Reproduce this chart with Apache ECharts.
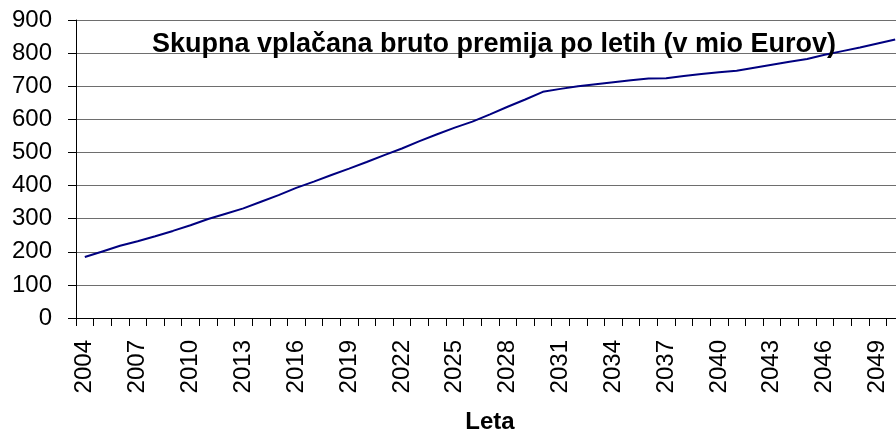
<!DOCTYPE html>
<html>
<head>
<meta charset="utf-8">
<script src="https://cdn.jsdelivr.net/npm/echarts@6/dist/echarts.min.js"></script>
<style>
  html, body { margin: 0; padding: 0; background: #fff; overflow: hidden; }
  /* the original plot runs a little past the right edge of the picture */
  #chart { width: 904px; height: 439px; }
</style>
</head>
<body>
<div id="chart"></div>
<script>
// leta (kategorije na osi x)
const years = [
  '2004', '2005', '2006', '2007', '2008', '2009', '2010', '2011', '2012', '2013',
  '2014', '2015', '2016', '2017', '2018', '2019', '2020', '2021', '2022', '2023',
  '2024', '2025', '2026', '2027', '2028', '2029', '2030', '2031', '2032', '2033',
  '2034', '2035', '2036', '2037', '2038', '2039', '2040', '2041', '2042', '2043',
  '2044', '2045', '2046', '2047', '2048', '2049', '2050'
];
// skupna vplacana bruto premija (mio EUR), odcitano s slike
const premium = [
  184, 201, 218, 232, 247, 263, 280, 299, 315, 331,
  351, 371, 393, 412, 432, 451, 471, 492, 512, 534,
  555, 575, 593, 615, 638, 660, 683, 692, 700, 706,
  712, 718, 723, 724, 731, 737, 742, 747, 756, 765,
  774, 782, 795, 806, 817, 829, 841
];
const yTicks = [0, 100, 200, 300, 400, 500, 600, 700, 800, 900];

const font = '"Liberation Sans", Arial, sans-serif';
const chart = echarts.init(document.getElementById('chart'));

const option = {
  animation: false,
  title: {
    text: 'Skupna vplačana bruto premija po letih (v mio Eurov)',
    left: 489,
    top: 26,
    textAlign: 'center',
    textStyle: { fontFamily: font, fontSize: 27, fontWeight: 'bold', color: '#000' }
  },
  grid: { left: 76, right: 0, top: 20, bottom: 118 },
  xAxis: {
    type: 'category',
    data: years,
    boundaryGap: true,
    name: 'Leta',
    nameLocation: 'middle',
    nameGap: 92,
    nameTextStyle: { fontFamily: font, fontSize: 24, fontWeight: 'bold', color: '#000' },
    axisLine: { lineStyle: { color: '#000', width: 1 } },
    axisTick: { show: true, interval: 0, length: 8, lineStyle: { color: '#000' } },
    axisLabel: {
      interval: 2,
      rotate: 90,
      margin: 22,
      fontFamily: font,
      fontSize: 24,
      color: '#000'
    },
    splitLine: { show: false }
  },
  yAxis: {
    type: 'value',
    min: yTicks[0],
    max: yTicks[yTicks.length - 1],
    interval: 100,
    axisLine: { show: true, lineStyle: { color: '#000', width: 1 } },
    axisTick: { show: true, length: 8, lineStyle: { color: '#000' } },
    axisLabel: { margin: 24, fontFamily: font, fontSize: 24, color: '#000' },
    splitLine: { show: true, lineStyle: { color: '#6e6e6e', width: 1 } }
  },
  series: [{
    type: 'line',
    data: premium,
    symbol: 'none',
    lineStyle: { color: '#000080', width: 2 }
  }]
};

chart.setOption(option);
</script>
</body>
</html>
